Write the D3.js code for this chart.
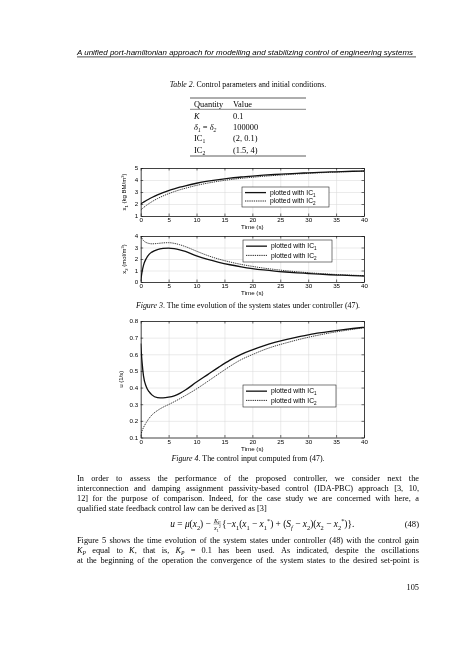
<!DOCTYPE html>
<html><head><meta charset="utf-8">
<script src="https://cdn.jsdelivr.net/npm/d3@7"></script>
<style>html,body{margin:0;padding:0;background:#fff;} svg{display:block;will-change:transform;opacity:0.999;} text{white-space:pre;-webkit-font-smoothing:antialiased;}</style>
</head><body>
<svg id="page" width="474" height="670"></svg>
<script>
// ---------------- data ----------------
const time   = [0,0.25,0.5,1,1.5,2,3,4,5,6,7,8,10,12,14,16,18,20,22,24,26,28,30,32,34,36,38,40];
const x1IC1  = [2.00,2.08,2.15,2.29,2.42,2.54,2.76,2.95,3.12,3.27,3.40,3.52,3.73,3.90,4.04,4.15,4.25,4.33,4.40,4.46,4.51,4.56,4.60,4.64,4.67,4.70,4.73,4.75];
const x1IC2  = [1.50,1.60,1.70,1.88,2.04,2.19,2.45,2.67,2.86,3.03,3.18,3.31,3.55,3.74,3.90,4.03,4.14,4.23,4.31,4.38,4.44,4.50,4.55,4.60,4.64,4.68,4.71,4.74];
const x2IC1  = [0.10,0.90,1.45,2.05,2.40,2.60,2.82,2.92,2.95,2.90,2.80,2.66,2.27,1.96,1.71,1.50,1.32,1.17,1.05,0.95,0.87,0.80,0.74,0.68,0.63,0.59,0.55,0.52];
const x2IC2  = [4.00,3.78,3.60,3.43,3.35,3.32,3.35,3.40,3.42,3.36,3.24,3.08,2.68,2.30,1.99,1.74,1.53,1.36,1.21,1.09,0.98,0.89,0.81,0.74,0.68,0.63,0.59,0.55];
const uIC1   = [0.665,0.55,0.47,0.405,0.375,0.356,0.34,0.338,0.342,0.35,0.365,0.385,0.433,0.478,0.523,0.565,0.600,0.627,0.651,0.671,0.688,0.703,0.716,0.728,0.738,0.747,0.755,0.762];
const uIC2   = [0.112,0.14,0.16,0.19,0.215,0.235,0.262,0.282,0.298,0.315,0.333,0.352,0.392,0.437,0.483,0.528,0.568,0.598,0.626,0.649,0.668,0.686,0.702,0.716,0.729,0.740,0.750,0.760];

const xTicks  = [0,5,10,15,20,25,30,35,40];
const y1Ticks = [1,2,3,4,5];
const y2Ticks = [0,1,2,3,4];
const y3Ticks = [0.1,0.2,0.3,0.4,0.5,0.6,0.7,0.8];
const legendLabels = ["plotted with IC_{1}", "plotted with IC_{2}"];

const tableHead = ["Quantity", "Value"];
const tableQty  = ["*K*", "*δ*_{*1*} = *δ*_{*2*}", "IC_{1}", "IC_{2}"];
const tableVal  = ["0.1", "100000", "(2, 0.1)", "(1.5, 4)"];

const headerText = "A unified port-hamiltonian approach for modelling and stabilizing control of engineering systems";
const paraLines1 = [
  "In order to assess the performance of the proposed controller, we consider next the",
  "interconnection and damping assignment passivity-based control (IDA-PBC) approach [3, 10,",
  "12] for the purpose of comparison. Indeed, for the case study we are concerned with here, a",
  "qualified state feedback control law can be derived as [3]"
];
const paraLines2 = [
  "Figure 5 shows the time evolution of the system states under controller (48) with the control gain",
  "*K*_{*P*} equal to *K*, that is, *K*_{*P*} = 0.1 has been used. As indicated, despite the oscillations",
  "at the beginning of the operation the convergence of the system states to the desired set-point is"
];

// ---------------- helpers ----------------
const svg = d3.select('#page');
const SERIF = "'Liberation Serif','Times New Roman',serif";
const SANS = "'Liberation Sans',Arial,sans-serif";
const INK = '#000';

function rich(sel, str, fs) {
  const parts = str.split(/(\*[^*]*\*|_\{[^}]*\}|\^\{[^}]*\})/).filter(s => s.length);
  let cur = 0;
  parts.forEach(p => {
    let txt = p, italic = false, size = fs, off = 0;
    if (p.startsWith('_{')) { txt = p.slice(2, -1); size = fs * 0.68; off = fs * 0.28; }
    else if (p.startsWith('^{')) { txt = p.slice(2, -1); size = fs * 0.68; off = -fs * 0.38; }
    if (txt.length > 1 && txt.startsWith('*') && txt.endsWith('*')) { txt = txt.slice(1, -1); italic = true; }
    const ts = sel.append('tspan').text(txt).attr('font-size', size);
    if (italic) ts.attr('font-style', 'italic');
    if (off !== cur) { ts.attr('dy', off - cur); cur = off; }
  });
  return sel;
}

function textAt(x, y, str, fs, family, anchor) {
  const t = svg.append('text').attr('x', x).attr('y', y)
    .attr('font-family', family).attr('font-size', fs).attr('fill', INK)
    .attr('text-anchor', anchor || 'start');
  rich(t, str, fs);
  return t;
}

function justified(str, x0, x1, y, fs, justify) {
  const words = str.split(' ');
  const els = words.map(w => textAt(0, y, w, fs, SERIF));
  const widths = els.map(e => e.node().getComputedTextLength());
  const total = d3.sum(widths);
  const spaceW = fs * 0.25;
  const gap = justify ? (x1 - x0 - total) / (words.length - 1) : spaceW;
  let x = x0;
  els.forEach((e, i) => { e.attr('x', x); x += widths[i] + gap; });
}

// ---------------- header ----------------
svg.append('text').attr('x', 77).attr('y', 55.2)
  .attr('font-family', SANS).attr('font-size', 7.6).attr('font-style', 'italic')
  .attr('fill', INK).attr('textLength', 336).attr('lengthAdjust', 'spacingAndGlyphs')
  .text(headerText);
svg.append('line').attr('x1', 77).attr('x2', 416).attr('y1', 56.9).attr('y2', 56.9)
  .attr('stroke', '#222').attr('stroke-width', 0.8);

// ---------------- table ----------------
textAt(248, 87, "*Table 2*. Control parameters and initial conditions.", 7.8, SERIF, 'middle');
[[98, 0.8], [109.3, 0.6], [156, 0.8]].forEach(([yy, w]) =>
  svg.append('line').attr('x1', 190).attr('x2', 306).attr('y1', yy).attr('y2', yy)
     .attr('stroke', '#333').attr('stroke-width', w));
const colX = [194, 233];
tableHead.forEach((h, i) => textAt(colX[i], 107, h, 8.4, SERIF));
const rowY = [119.3, 129.8, 140.8, 152.6];
tableQty.forEach((q, i) => textAt(colX[0], rowY[i], q, 8.4, SERIF));
tableVal.forEach((v, i) => textAt(colX[1], rowY[i], v, 8.4, SERIF));

// ---------------- charts ----------------
const X0 = 140.7, X1 = 364;
function chart(cfg) {
  const x = d3.scaleLinear().domain([0, 40]).range([X0, X1]);
  const y = d3.scaleLinear().domain(cfg.yDomain).range([cfg.bottom, cfg.top]);
  const g = svg.append('g');
  const h = cfg.bottom - cfg.top, w = X1 - X0;
  const id = 'clip' + cfg.name;
  g.append('clipPath').attr('id', id).append('rect')
    .attr('x', X0).attr('y', cfg.top).attr('width', w).attr('height', h);

  // grid
  const gx = g.append('g').attr('transform', `translate(0,${cfg.bottom})`)
    .call(d3.axisBottom(x).tickValues(xTicks.slice(1, -1)).tickSize(-h).tickFormat(''));
  const gy = g.append('g').attr('transform', `translate(${X0},0)`)
    .call(d3.axisLeft(y).tickValues(cfg.yTicks.slice(1, -1)).tickSize(-w).tickFormat(''));
  [gx, gy].forEach(s => { s.select('.domain').remove(); s.selectAll('line').attr('stroke', '#d6d6d6').attr('stroke-width', 0.5); });

  // curves
  const line = d3.line().x((d, i) => x(time[i])).y(d => y(d)).curve(d3.curveMonotoneX);
  g.append('path').datum(cfg.s2).attr('d', line).attr('fill', 'none')
    .attr('stroke', '#222').attr('stroke-width', 0.9).attr('stroke-dasharray', '1.3,0.9')
    .attr('clip-path', `url(#${id})`);
  g.append('path').datum(cfg.s1).attr('d', line).attr('fill', 'none')
    .attr('stroke', '#111').attr('stroke-width', 1.3).attr('clip-path', `url(#${id})`);

  // axes (inward ticks, box)
  const fs = 6.2;
  const ab = g.append('g').attr('transform', `translate(0,${cfg.bottom})`)
    .call(d3.axisBottom(x).tickValues(xTicks).tickSize(-2.5).tickSizeOuter(0).tickPadding(1.6).tickFormat(d3.format('d')));
  const al = g.append('g').attr('transform', `translate(${X0},0)`)
    .call(d3.axisLeft(y).tickValues(cfg.yTicks).tickSize(-2.5).tickSizeOuter(0).tickPadding(2.6).tickFormat(cfg.fmt));
  const at = g.append('g').attr('transform', `translate(0,${cfg.top})`)
    .call(d3.axisTop(x).tickValues(xTicks).tickSize(-2.5).tickSizeOuter(0).tickFormat(''));
  const ar = g.append('g').attr('transform', `translate(${X1},0)`)
    .call(d3.axisRight(y).tickValues(cfg.yTicks).tickSize(-2.5).tickSizeOuter(0).tickFormat(''));
  [ab, al, at, ar].forEach(s => {
    s.select('.domain').attr('stroke', '#111').attr('stroke-width', 0.8);
    s.selectAll('line').attr('stroke', '#111').attr('stroke-width', 0.6);
    s.selectAll('text').attr('font-family', SANS).attr('font-size', fs).attr('fill', INK);
  });

  // x label
  g.append('text').attr('x', (X0 + X1) / 2).attr('y', cfg.bottom + 13.4)
    .attr('text-anchor', 'middle').attr('font-family', SANS).attr('font-size', fs).attr('fill', INK)
    .text('Time (s)');
  // y label
  const yl = g.append('text').attr('transform', `translate(${cfg.ylx},${(cfg.top + cfg.bottom) / 2}) rotate(-90)`)
    .attr('text-anchor', 'middle').attr('font-family', SANS).attr('font-size', 6).attr('fill', INK);
  rich(yl, cfg.ylabel, 6);

  // legend
  const [lx0, ly0, lx1, ly1] = cfg.legend;
  g.append('rect').attr('x', lx0).attr('y', ly0).attr('width', lx1 - lx0).attr('height', ly1 - ly0)
    .attr('fill', '#fff').attr('stroke', '#222').attr('stroke-width', 0.6);
  const rows = [ly0 + (ly1 - ly0) * 0.28, ly0 + (ly1 - ly0) * 0.7];
  rows.forEach((ry, i) => {
    const ln = g.append('line').attr('x1', lx0 + 3).attr('x2', lx0 + 24).attr('y1', ry).attr('y2', ry)
      .attr('stroke', '#111');
    if (i === 0) ln.attr('stroke-width', 1.3);
    else ln.attr('stroke-width', 0.9).attr('stroke-dasharray', '1.3,0.9');
    const t = g.append('text').attr('x', lx0 + 28).attr('y', ry + 2.3)
      .attr('font-family', SANS).attr('font-size', 6.8).attr('fill', INK);
    rich(t, legendLabels[i], 6.8);
  });
}

chart({ name: 'a', top: 168, bottom: 216, yDomain: [1, 5], yTicks: y1Ticks, fmt: d3.format('d'),
        s1: x1IC1, s2: x1IC2, ylabel: 'x_{1} (kg BM/m^{3})', ylx: 126, legend: [242, 187, 329, 207] });
chart({ name: 'b', top: 236, bottom: 282, yDomain: [0, 4], yTicks: y2Ticks, fmt: d3.format('d'),
        s1: x2IC1, s2: x2IC2, ylabel: 'x_{2} (mol/m^{3})', ylx: 126, legend: [243, 240, 332, 262] });
chart({ name: 'c', top: 321, bottom: 437.5, yDomain: [0.1, 0.8], yTicks: y3Ticks, fmt: d3.format('.1f'),
        s1: uIC1, s2: uIC2, ylabel: 'u (1/s)', ylx: 123, legend: [243, 385, 336, 407] });

textAt(248, 308.2, "*Figure 3*. The time evolution of the system states under controller (47).", 7.9, SERIF, 'middle');
textAt(248, 461.2, "*Figure 4*. The control input computed from (47).", 7.9, SERIF, 'middle');

// ---------------- paragraph ----------------
const PX0 = 77, PX1 = 419, PFS = 8.3;
const base1 = [481, 491, 501, 511];
paraLines1.forEach((l, i) => justified(l, PX0, PX1, base1[i], PFS, i < paraLines1.length - 1));
const base2 = [542.5, 552.6, 562.6];
paraLines2.forEach((l, i) => justified(l, PX0, PX1, base2[i], PFS, true));

// equation (48)
(function () {
  const fs = 9.4, yb = 527;
  const a = textAt(0, yb, "*u* = *μ*(*x*_{2}) − ", fs, SERIF);
  const wa = a.node().getComputedTextLength();
  const num = textAt(0, yb - 4.4, "*K*_{*P*}", 6, SERIF, 'middle');
  const den = textAt(0, yb + 3.2, "*x*_{1}^{2}", 6, SERIF, 'middle');
  const wf = Math.max(num.node().getComputedTextLength(), den.node().getComputedTextLength()) + 1.5;
  const b = textAt(0, yb, "{−*x*_{1}(*x*_{1} − *x*_{1}^{*}) + (*S*_{*f*} − *x*_{2})(*x*_{2} − *x*_{2}^{*})}.", fs, SERIF);
  const wb = b.node().getComputedTextLength();
  const x0 = 262 - (wa + wf + wb) / 2;
  a.attr('x', x0);
  num.attr('x', x0 + wa + wf / 2);
  den.attr('x', x0 + wa + wf / 2);
  svg.append('line').attr('x1', x0 + wa + 0.3).attr('x2', x0 + wa + wf - 0.3)
    .attr('y1', yb - 3).attr('y2', yb - 3).attr('stroke', '#222').attr('stroke-width', 0.4);
  b.attr('x', x0 + wa + wf + 0.5);
  textAt(PX1, yb, "(48)", 8.6, SERIF, 'end');
})();

textAt(PX1, 589.5, "105", 8.3, SERIF, 'end');
</script>
</body></html>
